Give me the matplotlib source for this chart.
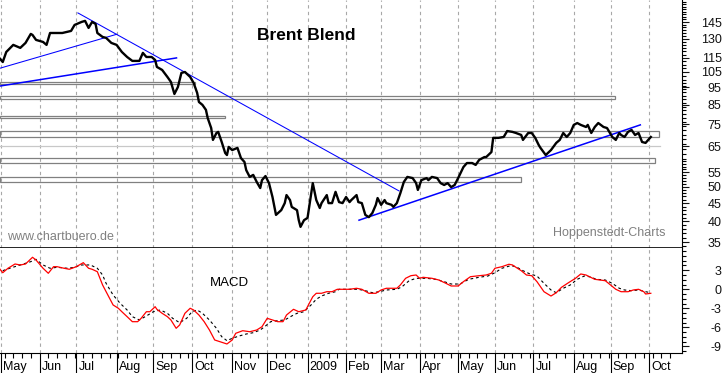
import numpy as np
import matplotlib
matplotlib.use('Agg')
import matplotlib.pyplot as plt
from matplotlib.patches import Rectangle
from matplotlib.ticker import FixedLocator, FuncFormatter, NullFormatter

plt.rcParams['font.family'] = ['Liberation Sans', 'DejaVu Sans']
plt.rcParams['axes.unicode_minus'] = False

# ---------------- data ----------------
# x axis: trading days counted from 1 May 2008
price_day = [-1, 1, 3, 7, 11, 14, 17, 18, 20, 24, 26, 28, 32, 35, 40, 42, 46, 48, 50, 52, 54, 55, 58, 60, 63,
             66, 69, 72, 75, 79, 81, 83, 86, 88, 89, 92, 95, 97, 99, 101, 103, 105, 108, 110, 112, 113, 115,
             117, 118, 120, 121, 123, 124, 126, 128, 129, 130, 132, 135, 137, 139, 140, 142, 144, 146, 148,
             149, 151, 153, 155, 157, 160, 162, 163, 165, 166, 169, 170, 171, 173, 175, 178, 180, 182, 183,
             186, 187, 189, 191, 193, 195, 197, 199, 200, 203, 204, 206, 208, 210, 212, 214, 215, 217, 219,
             220, 223, 224, 226, 228, 230, 232, 235, 237, 238, 240, 243, 244, 246, 249, 251, 253, 255, 257,
             259, 261, 264, 266, 269, 271, 273, 276, 277, 280, 281, 284, 287, 289, 292, 294, 297, 298, 301,
             303, 305, 307, 308, 311, 314, 317, 319, 321, 323, 325, 327, 329, 331, 334, 335, 337, 339, 341,
             344, 346, 349, 351, 353, 354, 356, 358, 360, 362, 364, 366, 368, 370, 371]
price = [115.0, 112.0, 119.5, 125.1, 122.7, 126.7, 134.3, 133.4, 129.2, 127.5, 125.1, 135.1, 135.1, 135.1,
         136.9, 142.3, 145.1, 146.1, 139.6, 145.1, 143.3, 135.1, 131.7, 130.9, 126.7, 125.1, 119.5, 115.7,
         112.8, 112.8, 118.8, 115.7, 115.7, 113.5, 108.5, 106.4, 101.7, 98.5, 91.1, 95.3, 104.4, 105.0,
         101.7, 97.8, 91.7, 86.5, 84.9, 82.2, 78.0, 73.1, 67.7, 70.8, 71.3, 66.8, 62.2, 61.4, 64.7, 63.4,
         64.3, 60.2, 58.7, 55.7, 53.3, 54.0, 51.6, 49.6, 52.2, 53.6, 51.2, 46.8, 41.7, 43.0, 45.0, 47.4,
         45.9, 43.9, 43.0, 40.3, 38.6, 40.3, 40.9, 51.2, 45.9, 43.6, 45.0, 47.4, 45.0, 45.0, 48.4, 45.3,
         45.0, 46.8, 45.3, 45.9, 47.4, 45.3, 45.0, 41.7, 41.1, 42.2, 44.5, 46.5, 44.5, 45.9, 45.0, 44.5,
         43.9, 45.0, 48.0, 51.6, 53.3, 52.9, 51.2, 49.0, 52.2, 52.9, 52.2, 53.3, 52.9, 51.2, 50.6, 51.2,
         49.9, 50.6, 52.9, 56.8, 58.3, 58.3, 57.6, 59.5, 60.6, 60.6, 62.6, 68.6, 68.6, 69.0, 71.7, 71.3,
         70.8, 69.9, 67.7, 70.8, 70.8, 68.6, 65.5, 64.3, 61.4, 63.4, 66.4, 67.7, 70.8, 69.0, 70.8, 74.6,
         75.5, 74.6, 73.6, 74.6, 70.8, 73.6, 75.5, 73.6, 73.1, 69.0, 67.7, 70.8, 69.9, 69.0, 71.3, 72.2,
         69.9, 70.8, 66.8, 66.4, 68.1, 69.0]

macd_day = [-1, 1, 4, 8, 11, 14, 18, 20, 24, 27, 30, 32, 36, 39, 43, 47, 50, 52, 55, 58, 61, 64, 67, 69, 72,
            75, 78, 80, 83, 85, 88, 89, 92, 95, 97, 100, 102, 105, 108, 110, 113, 116, 119, 122, 125, 129,
            132, 134, 138, 142, 146, 149, 152, 155, 158, 161, 163, 167, 170, 174, 178, 180, 183, 186, 189,
            192, 195, 199, 203, 206, 210, 214, 217, 220, 226, 228, 231, 234, 237, 239, 241, 246, 250, 254,
            257, 261, 264, 268, 273, 277, 280, 282, 286, 290, 292, 294, 297, 300, 303, 306, 310, 314, 317,
            320, 324, 328, 331, 334, 336, 339, 342, 345, 348, 351, 354, 356, 358, 361, 364, 367, 368, 371]
macd = [3.31, 2.61, 3.31, 3.98, 3.83, 3.98, 5.04, 4.61, 3.31, 2.52, 3.56, 3.56, 3.31, 3.15, 3.56, 4.19,
        3.31, 3.15, 2.77, 0.68, -0.90, -2.47, -2.99, -3.53, -4.31, -5.10, -5.10, -4.57, -3.53, -3.53,
        -2.74, -3.15, -3.78, -4.31, -4.83, -6.14, -5.62, -3.78, -2.99, -3.26, -4.05, -5.10, -6.41, -7.98,
        -8.25, -8.61, -7.98, -6.93, -6.52, -6.68, -6.41, -5.89, -4.57, -4.83, -5.10, -5.10, -4.05, -3.15,
        -3.53, -3.26, -1.17, -0.63, -0.63, -0.38, -0.38, 0.0, 0.0, 0.0, 0.16, 0.0, -0.63, -0.63, -0.11,
        0.16, 0.16, 0.68, 1.73, 2.14, 2.25, 1.73, 1.89, 1.73, 1.46, 0.94, 0.52, 0.52, 1.20, 1.98, 2.14,
        2.25, 2.52, 3.31, 3.56, 3.94, 3.83, 3.46, 2.93, 2.25, 2.14, 1.20, -0.38, -1.06, -0.54, 0.31, 1.04,
        1.73, 2.41, 2.25, 1.98, 1.57, 1.46, 1.35, 0.68, 0.0, -0.38, -0.38, -0.38, -0.11, 0.0, -0.38,
        -0.74, -0.63]

signal_day = [1, 5, 11, 17, 20, 24, 28, 32, 38, 42, 46, 51, 55, 58, 60, 64, 68, 72, 75, 79, 83, 87, 91, 95,
              98, 102, 106, 109, 112, 115, 119, 123, 126, 129, 132, 136, 140, 144, 148, 151, 154, 158, 162,
              166, 169, 173, 177, 180, 183, 187, 191, 193, 199, 204, 208, 212, 216, 220, 226, 229, 233, 237,
              243, 248, 253, 257, 262, 267, 273, 278, 282, 286, 291, 294, 298, 302, 306, 310, 314, 317, 321,
              325, 329, 333, 336, 340, 345, 349, 353, 356, 360, 364, 368, 371]
signal = [2.93, 3.31, 3.83, 4.35, 4.72, 3.83, 3.31, 3.46, 3.31, 3.46, 3.83, 3.83, 3.31, 2.25, 0.94, -0.90,
          -2.20, -3.26, -4.31, -4.83, -4.20, -3.53, -3.26, -3.78, -4.57, -5.26, -4.57, -3.53, -3.26, -3.78,
          -4.83, -6.14, -7.46, -8.09, -7.72, -7.35, -7.04, -6.83, -6.41, -5.78, -5.10, -4.94, -4.83, -4.20,
          -3.78, -3.53, -2.47, -1.57, -1.06, -0.63, -0.38, 0.0, 0.0, 0.0, -0.22, -0.54, -0.38, -0.11, 0.0,
          0.41, 1.35, 1.73, 1.73, 1.57, 1.20, 0.83, 0.83, 1.57, 1.89, 2.09, 2.61, 3.31, 3.72, 3.56, 2.93,
          2.41, 2.09, 0.94, -0.11, -0.54, 0.16, 0.68, 1.57, 2.09, 1.98, 1.57, 1.46, 0.94, 0.16, -0.11,
          -0.22, -0.11, -0.38, -0.54]

# trend lines: (start day, end day) and (start price, end price)
trend_days = [(-0.57, 66.1), (-0.57, 100.2), (43.9, 227.2), (204.4, 365.0)]
trend_prices = [(107.6, 134.0), (95.9, 115.0), (153.8, 48.7), (40.3, 74.6)]
trend_bold = [False, True, False, True]

# horizontal price zones
zone_end = [110.5, 350.8, 128.1, 375.9, 373.6, 296.7]
zone_low = [97.0, 88.0, 77.9, 69.0, 58.5, 51.6]
zone_high = [98.3, 90.1, 79.0, 71.7, 60.1, 53.4]
level_price, level_end = 65.1, 376.4

price_labels = [35, 40, 45, 50, 55, 65, 75, 85, 95, 105, 115, 130, 145]
macd_labels = [3, 0, -3, -6, -9]

month_starts = ['2008-05-01', '2008-06-01', '2008-07-01', '2008-08-01', '2008-09-01', '2008-10-01',
                '2008-11-01', '2008-12-01', '2009-01-01', '2009-02-01', '2009-03-01', '2009-04-01',
                '2009-05-01', '2009-06-01', '2009-07-01', '2009-08-01', '2009-09-01', '2009-10-01']
month_names = ['May', 'Jun', 'Jul', 'Aug', 'Sep', 'Oct', 'Nov', 'Dec', '2009', 'Feb', 'Mar', 'Apr',
               'May', 'Jun', 'Jul', 'Aug', 'Sep', 'Oct']

# ---------------- figure ----------------
W, H = 723, 373
fig = plt.figure(figsize=(W / 100, H / 100), dpi=100, facecolor='white')
axw = 682 / W
ax1 = fig.add_axes([0, (H - 248) / H, axw, 248 / H])
ax2 = fig.add_axes([0, (H - 353) / H, axw, 105 / H], sharex=ax1)

origin = np.datetime64('2008-05-01')
month_pos = np.busday_count(origin, np.array(month_starts, dtype='datetime64[D]'))
mondays = np.arange(np.datetime64('2008-04-28'), np.datetime64('2009-10-20'), 7)
week_pos = np.busday_count(origin, mondays)

xmin, xmax = -0.571, 388.8
grid_kw = dict(color='#a8a8a8', lw=0.8, ls=(0, (3, 3)), zorder=0)

# ---- price panel ----
ax1.set_yscale('log')
ax1.set_xlim(xmin, xmax)
ax1.set_ylim(33.67, 167.2)
for p in month_pos:
    ax1.axvline(p, **grid_kw)

for e, lo, hi in zip(zone_end, zone_low, zone_high):
    ax1.add_patch(Rectangle((xmin, lo), e - xmin, hi - lo, facecolor='none',
                            edgecolor='#808080', lw=0.9, zorder=2))
ax1.plot([xmin, level_end], [level_price, level_price], color='#c8c8c8', lw=0.9, zorder=2)

for (d0, d1), (p0, p1), b in zip(trend_days, trend_prices, trend_bold):
    ax1.plot([d0, d1], [p0, p1], color='#0000ff', lw=1.1 if b else 0.75, zorder=3)

ax1.plot(price_day, price, color='black', lw=1.7, zorder=4, solid_joinstyle='round')

minor_price_ticks = list(range(34, 61)) + list(range(62, 101, 2)) + list(np.arange(102.5, 168, 2.5))
ax1.yaxis.tick_right()
ax1.yaxis.set_major_locator(FixedLocator(price_labels))
ax1.yaxis.set_minor_locator(FixedLocator(minor_price_ticks))
ax1.yaxis.set_major_formatter(FuncFormatter(lambda v, pos: str(int(round(v)))))
ax1.yaxis.set_minor_formatter(NullFormatter())
ax1.tick_params(axis='y', which='major', direction='out', length=5, width=0.8, pad=23.5,
                labelsize=9, colors='#111111')
ax1.tick_params(axis='y', which='minor', direction='out', length=3, width=0.8)
ax1.tick_params(axis='x', which='both', bottom=False, labelbottom=False)
for s in ['left', 'top']:
    ax1.spines[s].set_visible(False)
ax1.spines['bottom'].set_linewidth(1.2)
ax1.spines['right'].set_linewidth(0.8)

ax1.text(306 / 682, 1 - 40 / 248, 'Brent Blend', transform=ax1.transAxes, ha='center', va='baseline',
         fontsize=12.5, fontweight='bold', color='black')
ax1.text(7 / 682, 1 - 240 / 248, 'www.chartbuero.de', transform=ax1.transAxes, ha='left', va='baseline',
         fontsize=9, color='#808080')
ax1.text(666 / 682, 1 - 236 / 248, 'Hoppenstedt-Charts', transform=ax1.transAxes, ha='right',
         va='baseline', fontsize=9, color='#808080')

# ---- MACD panel ----
ax2.set_ylim(-10.03, 6.5)
for p in month_pos:
    ax2.axvline(p, **grid_kw)
ax2.plot(signal_day, signal, color='black', lw=0.8, ls=(0, (2.5, 2.5)), zorder=3)
ax2.plot(macd_day, macd, color='#ff0000', lw=0.9, zorder=4)

ax2.yaxis.tick_right()
ax2.yaxis.set_major_locator(FixedLocator(macd_labels))
ax2.yaxis.set_minor_locator(FixedLocator(list(np.arange(-10.5, 6.6, 0.75))))
ax2.yaxis.set_major_formatter(FuncFormatter(lambda v, pos: '%d' % round(v)))
ax2.tick_params(axis='y', which='major', direction='out', length=5, width=0.8, pad=23.5,
                labelsize=9, colors='#111111')
ax2.tick_params(axis='y', which='minor', direction='out', length=3, width=0.8)

ax2.xaxis.set_major_locator(FixedLocator(month_pos))
ax2.xaxis.set_minor_locator(FixedLocator(week_pos))
ax2.xaxis.set_major_formatter(NullFormatter())
ax2.tick_params(axis='x', which='major', direction='out', length=14.5, width=0.8)
ax2.tick_params(axis='x', which='minor', direction='out', length=3.6, width=0.8)
for s in ['left', 'top']:
    ax2.spines[s].set_visible(False)
ax2.spines['bottom'].set_linewidth(0.8)
ax2.spines['right'].set_linewidth(0.8)
ax2.set_xlim(xmin, xmax)

ax2.text(229.5 / 682, (353 - 286) / 105, 'MACD', transform=ax2.transAxes, ha='center', va='baseline',
         fontsize=9.5, color='black')
for p, name in zip(month_pos, month_names):
    ax2.annotate(name, xy=(p, 0), xycoords=('data', 'axes fraction'), xytext=(1.6, -12.2),
                 textcoords='offset points', ha='left', va='baseline', fontsize=9, color='black')

for ax in (ax1, ax2):
    for lbl in ax.get_yticklabels():
        lbl.set_horizontalalignment('right')

fig.savefig('out.png', dpi=100, facecolor='white')
